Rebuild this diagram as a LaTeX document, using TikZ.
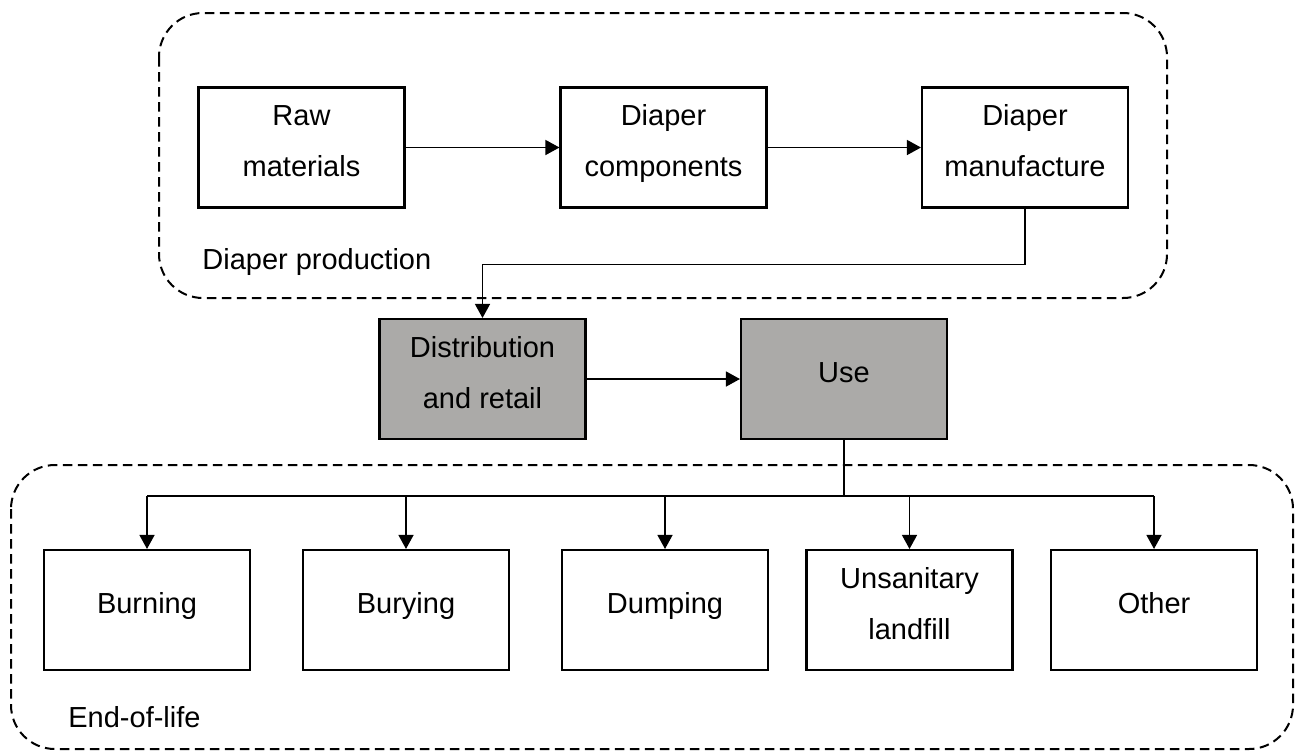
\documentclass[tikz,border=0pt]{standalone}
\usepackage{fontspec}
\setmainfont{Liberation Sans}
\usetikzlibrary{arrows.meta}

\definecolor{stagegray}{RGB}{171,170,168}
% same height and depth for every text line
\newcommand{\textline}{\rule[-7.5pt]{0pt}{18.5pt}}

\tikzset{
  stage/.style={draw, line width=1.05pt, minimum width=103pt, minimum height=60pt,
    inner sep=0pt, align=center, font=\fontsize{14.5}{25.5}\selectfont},
  usestage/.style={stage, fill=stagegray},
  groupbox/.style={draw, line width=1pt, dash pattern=on 4.75pt off 2.75pt,
    rounded corners=22pt},
  grouplabel/.style={anchor=base west, inner sep=0pt,
    font=\fontsize{14.5}{17}\selectfont},
  flow/.style={-{Triangle[length=7pt,width=7.5pt]}, line width=0.7pt},
  link/.style={line width=0.7pt}
}

\begin{document}
\begin{tikzpicture}[x=0.5pt, y=-0.5pt]
  \useasboundingbox (0,0) rectangle (1304,751);

  % production
  \path[groupbox] (159,13) rectangle (1167,298);
  \node[grouplabel] (prodlabel) at (202,269) {Diaper production};
  \node[stage] (raw) at (301.5,147.5) {\textline Raw\\\textline materials};
  \node[stage] (comp) at (663.5,147.5) {\textline Diaper\\\textline components};
  \node[stage] (manu) at (1025,147.5) {\textline Diaper\\\textline manufacture};
  \draw[flow] (raw) -- (comp);
  \draw[flow] (comp) -- (manu);

  % distribution and use
  \node[usestage] (dist) at (482.5,379) {\textline Distribution\\\textline and retail};
  \node[usestage] (use) at (844,379) {\textline Use};
  \draw[flow] (manu.south) -- ++(0,56) -| (dist.north);
  \draw[flow] (dist) -- (use);

  % end of life
  \path[groupbox] (11,465) rectangle (1293,749);
  \node[grouplabel] (eollabel) at (68,727) {End-of-life};
  \foreach \n/\x/\t in {burn/147/Burning, bury/406/Burying, dump/665/Dumping,
      landfill/909.5/{Unsanitary\\\textline landfill}, other/1154/Other}
  {
    \node[stage] (\n) at (\x,610) {\textline\t};
  }
  \draw[link] (use.south) -- ++(0,56) coordinate (split);
  \draw[link] (burn.north |- split) -- (other.north |- split);
  \foreach \n in {burn,bury,dump,landfill,other}
    \draw[flow] (\n.north |- split) -- (\n.north);
\end{tikzpicture}
\end{document}
